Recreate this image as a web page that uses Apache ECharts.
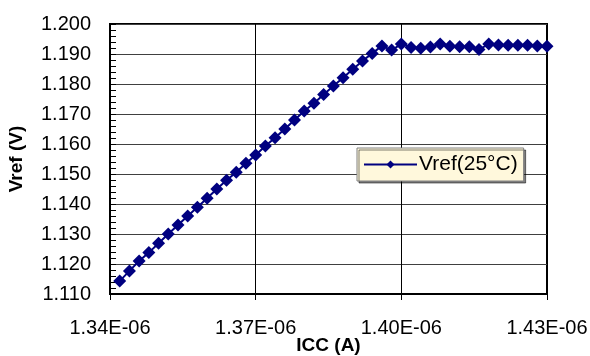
<!DOCTYPE html>
<html>
<head>
<meta charset="utf-8">
<script src="https://cdn.jsdelivr.net/npm/echarts@6/dist/echarts.min.js"></script>
<style>
  html, body { margin: 0; padding: 0; background: #fff; }
  #main { width: 590px; height: 356px; }
</style>
</head>
<body>
<div id="main"></div>
<script>
// ICC in units of 1E-06 A
var icc = [1.342, 1.344, 1.346, 1.348, 1.350, 1.352, 1.354, 1.356, 1.358, 1.360,
           1.362, 1.364, 1.366, 1.368, 1.370, 1.372, 1.374, 1.376, 1.378, 1.380,
           1.382, 1.384, 1.386, 1.388, 1.390, 1.392, 1.394, 1.396, 1.398, 1.400,
           1.402, 1.404, 1.406, 1.408, 1.410, 1.412, 1.414, 1.416, 1.418, 1.420,
           1.422, 1.424, 1.426, 1.428, 1.430];
var vref = [1.1143, 1.1177, 1.1210, 1.1238, 1.1269, 1.1300, 1.1330, 1.1360, 1.1389, 1.1419,
            1.1450, 1.1479, 1.1506, 1.1536, 1.1563, 1.1593, 1.1621, 1.1650, 1.1680, 1.1710,
            1.1736, 1.1765, 1.1793, 1.1821, 1.1849, 1.1877, 1.1902, 1.1927, 1.1913, 1.1933,
            1.1922, 1.1919, 1.1923, 1.1933, 1.1926, 1.1924, 1.1924, 1.1915, 1.1933, 1.1930,
            1.1929, 1.1929, 1.1929, 1.1927, 1.1926];
var xTicks = [1.34, 1.37, 1.40, 1.43];
var yMin = 1.11, yMax = 1.2, yStep = 0.01;
var seriesName = 'Vref(25°C)';

var myChart = echarts.init(document.getElementById('main'));

var pts = [];
for (var i = 0; i < icc.length; i++) {
    pts.push([icc[i], vref[i]]);
}

var font = 'Arial, "Liberation Sans", sans-serif';

var option = {
    animation: false,
    textStyle: { fontFamily: font },
    grid: {
        left: 110, right: 43, top: 24, bottom: 62,
        outerBoundsMode: 'none',
        containLabel: false,
        show: true,
        borderColor: '#000',
        borderWidth: 2
    },
    legend: {
        left: 357,
        top: 148,
        data: [seriesName],
        itemWidth: 53,
        itemHeight: 10,
        padding: [6, 6, 6, 6],
        backgroundColor: '#fff8dc',
        borderColor: '#808080',
        borderWidth: 1,
        shadowColor: 'rgba(0,0,0,0.5)',
        shadowOffsetX: 2,
        shadowOffsetY: 2,
        shadowBlur: 0,
        textStyle: { color: '#000', fontSize: 21, fontFamily: font, padding: [0, 0, 0, -3] }
    },
    xAxis: {
        type: 'value',
        min: 1.34,
        max: 1.43,
        name: 'ICC (A)',
        nameLocation: 'middle',
        nameGap: 42,
        nameMoveOverlap: false,
        nameTextStyle: { color: '#000', fontWeight: 'bold', fontSize: 19 },
        axisLine: { lineStyle: { color: '#000', width: 2 } },
        axisTick: { length: 6, lineStyle: { color: '#000' }, customValues: xTicks },
        axisLabel: {
            color: '#000', fontSize: 20, margin: 24,
            customValues: xTicks,
            formatter: function (v) { return v.toFixed(2) + 'E-06'; }
        },
        splitLine: { show: true, lineStyle: { color: '#000', width: 1 } }
    },
    yAxis: {
        type: 'value',
        min: yMin,
        max: yMax,
        interval: yStep,
        name: 'Vref (V)',
        nameLocation: 'middle',
        nameGap: 84,
        nameMoveOverlap: false,
        nameTextStyle: { color: '#000', fontWeight: 'bold', fontSize: 19 },
        axisLine: { show: true, lineStyle: { color: '#000', width: 2 } },
        axisTick: { show: true, inside: true, length: 6, lineStyle: { color: '#000', width: 1 } },
        minorTick: { show: true, splitNumber: 5, length: 6, lineStyle: { color: '#000', width: 1 } },
        minorSplitLine: { show: false },
        axisLabel: {
            color: '#000', fontSize: 20, margin: 19,
            formatter: function (v) { return v.toFixed(3); }
        },
        splitLine: { show: true, lineStyle: { color: '#404040', width: 1 } }
    },
    series: [{
        name: seriesName,
        type: 'line',
        data: pts,
        symbol: 'diamond',
        symbolSize: 13,
        itemStyle: { color: '#000080' },
        lineStyle: { color: '#000080', width: 2 }
    }]
};

myChart.setOption(option);
</script>
</body>
</html>
